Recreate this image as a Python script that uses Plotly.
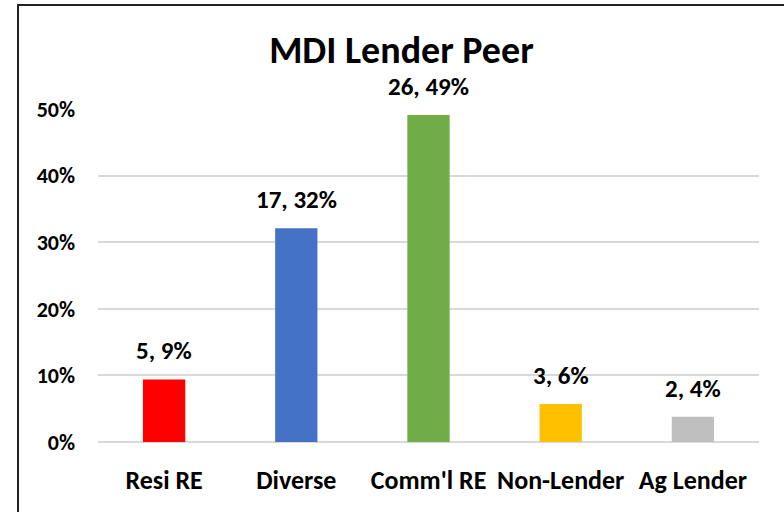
import plotly.graph_objects as go

categories = ["Resi RE", "Diverse", "Comm'l RE", "Non-Lender", "Ag Lender"]
counts = [5, 17, 26, 3, 2]
shares = [0.094, 0.321, 0.491, 0.057, 0.038]
labels = ["5, 9%", "17, 32%", "26, 49%", "3, 6%", "2, 4%"]
colors = ["#FF0000", "#4472C4", "#70AD47", "#FFC000", "#BFBFBF"]
tick_vals = [0, 0.1, 0.2, 0.3, 0.4, 0.5]
tick_text = ["0%", "10%", "20%", "30%", "40%", "50%"]

FONT = "Carlito, Lato, 'Open Sans', sans-serif"

fig = go.Figure(go.Bar(
    x=categories, y=shares, marker=dict(color=colors, line=dict(width=0)),
    hoverinfo="skip",
))

for c, v, t in zip(categories, shares, labels):
    fig.add_annotation(x=c, y=v, text=t, showarrow=False, yanchor="bottom",
                       yshift=11,
                       font=dict(family=FONT, size=25, color="#000000", weight="bold"))

fig.add_shape(type="rect", xref="paper", yref="paper",
              x0=-0.121, x1=1.06, y0=-0.25, y1=1.312,
              line=dict(color="#222222", width=2), fillcolor="rgba(0,0,0,0)")

fig.update_layout(
    width=784, height=512,
    margin=dict(l=98, r=25, t=109, b=70, autoexpand=False),
    paper_bgcolor="white", plot_bgcolor="white",
    bargap=0.68, showlegend=False,
    font=dict(family=FONT, color="#000000"),
    title=dict(text="MDI Lender Peer", x=0.512, xref="container", xanchor="center",
               y=0.902, yref="container", yanchor="middle",
               font=dict(family=FONT, size=38, color="#000000", weight="bold")),
    xaxis=dict(showgrid=False, showline=False, ticks="", zeroline=False,
               automargin=False,
               tickfont=dict(family=FONT, size=26, color="#000000", weight="bold"),
               ticklabelstandoff=20),
    yaxis=dict(range=[0, 0.5], tickvals=tick_vals, ticktext=tick_text,
               automargin=False,
               showgrid=True, gridcolor="#D9D9D9", gridwidth=1.5,
               zeroline=True, zerolinecolor="#D9D9D9", zerolinewidth=1.5,
               showline=False, ticks="",
               tickfont=dict(family=FONT, size=22, color="#000000", weight="bold"),
               ticklabelstandoff=22),
)

fig.write_html("out.html", config={"displayModeBar": False},
               post_script="document.body.style.margin='0';document.body.style.overflow='hidden';")
